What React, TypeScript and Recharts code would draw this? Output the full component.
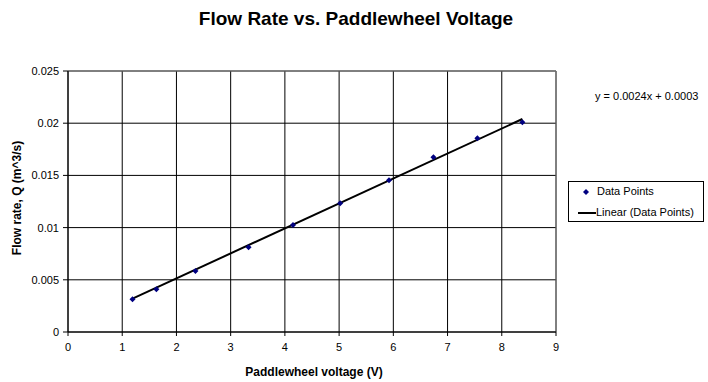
import React from 'react';
import {
  ScatterChart,
  Scatter,
  XAxis,
  YAxis,
  CartesianGrid,
  ReferenceLine,
} from 'recharts';

// Readings taken off the original chart
const voltage = [1.19, 1.63, 2.35, 3.33, 4.15, 5.02, 5.92, 6.74, 7.55, 8.38];
const flowRate = [0.00313, 0.00409, 0.00584, 0.00811, 0.01025, 0.01233, 0.01453, 0.01673, 0.01855, 0.02009];

// Linear trendline end points (y = 0.0024x + 0.0003)
const trendVoltage = [1.19, 8.38];
const trendFlow = [0.0032, 0.0204];

const xTicks = [0, 1, 2, 3, 4, 5, 6, 7, 8, 9];
const yTicks = [0, 0.005, 0.01, 0.015, 0.02, 0.025];
const yTickLabels = ['0', '0.005', '0.01', '0.015', '0.02', '0.025'];

const points = voltage.map((v, i) => ({ x: v, y: flowRate[i] }));
const trend = trendVoltage.map((v, i) => ({ x: v, y: trendFlow[i] }));

const FONT = '"Liberation Sans", Arial, sans-serif';

const Diamond = (props: any) => {
  const { cx, cy } = props;
  if (typeof cx !== 'number' || typeof cy !== 'number') return <g />;
  return (
    <polygon
      points={`${cx},${cy - 3} ${cx + 3},${cy} ${cx},${cy + 3} ${cx - 3},${cy}`}
      fill="#000080"
    />
  );
};

// legend drawn as a plain box so it does not eat into the plot area
const LegendBox = () => (
  <div
    style={{
      position: 'absolute',
      left: 568,
      top: 181,
      border: '1px solid #000',
      width: 134,
      height: 39,
      fontFamily: FONT,
      fontSize: 11,
      color: '#000',
      background: '#fff',
    }}
  >
    <svg width={30} height={39} style={{ position: 'absolute', left: 0, top: 0 }}>
      <polygon points="17,7 20,10 17,13 14,10" fill="#000080" />
      <line x1={9} y1={31} x2={27} y2={31} stroke="#000" strokeWidth={2} />
    </svg>
    <div style={{ position: 'absolute', left: 28, top: 3 }}>Data Points</div>
    <div style={{ position: 'absolute', left: 27, top: 24 }}>Linear (Data Points)</div>
  </div>
);

export default function App() {
  return (
    <div
      style={{
        position: 'absolute',
        left: 0,
        top: 0,
        width: 708,
        height: 382,
        background: '#fff',
        fontFamily: FONT,
      }}
    >
      <ScatterChart
        width={708}
        height={382}
        margin={{ top: 71, right: 152, bottom: 0, left: 0 }}
      >
        <CartesianGrid stroke="#000" strokeWidth={1} horizontalValues={yTicks} verticalValues={xTicks} />
        <XAxis
          type="number"
          dataKey="x"
          domain={[0, 9]}
          ticks={xTicks}
          height={50}
          interval={0}
          tickSize={4}
          tickMargin={7}
          stroke="#000"
          tick={{ fill: '#000', fontSize: 11, fontFamily: FONT }}
        />
        <YAxis
          type="number"
          dataKey="y"
          domain={[0, 0.025]}
          ticks={yTicks}
          width={68}
          interval={0}
          tickSize={5}
          tickMargin={4}
          stroke="#000"
          tickFormatter={(v: number) => yTickLabels[yTicks.indexOf(v)] ?? String(v)}
          tick={{ fill: '#000', fontSize: 11, fontFamily: FONT }}
        />
        <ReferenceLine y={0.025} stroke="#808080" strokeWidth={1} />
        <ReferenceLine x={9} stroke="#808080" strokeWidth={1} />
        <Scatter
          name="Linear (Data Points)"
          data={trend}
          line={{ stroke: '#000', strokeWidth: 2 }}
          lineType="joint"
          shape={() => <g />}
          isAnimationActive={false}
        />
        <Scatter
          name="Data Points"
          data={points}
          shape={<Diamond />}
          isAnimationActive={false}
        />
      </ScatterChart>

      <LegendBox />

      <div
        style={{
          position: 'absolute',
          left: 356,
          top: 8,
          transform: 'translateX(-50%)',
          fontSize: 19,
          fontWeight: 'bold',
          whiteSpace: 'nowrap',
          color: '#000',
        }}
      >
        Flow Rate vs. Paddlewheel Voltage
      </div>

      <div
        style={{
          position: 'absolute',
          left: 595,
          top: 90,
          fontSize: 11,
          whiteSpace: 'nowrap',
          color: '#000',
        }}
      >
        y = 0.0024x + 0.0003
      </div>

      <div
        style={{
          position: 'absolute',
          left: 314,
          top: 365,
          transform: 'translateX(-50%)',
          fontSize: 12,
          fontWeight: 'bold',
          whiteSpace: 'nowrap',
          color: '#000',
        }}
      >
        Paddlewheel voltage (V)
      </div>

      <div
        style={{
          position: 'absolute',
          left: 17,
          top: 198,
          transform: 'translate(-50%, -50%) rotate(-90deg)',
          fontSize: 12,
          fontWeight: 'bold',
          whiteSpace: 'nowrap',
          color: '#000',
        }}
      >
        Flow rate, Q (m^3/s)
      </div>
    </div>
  );
}
